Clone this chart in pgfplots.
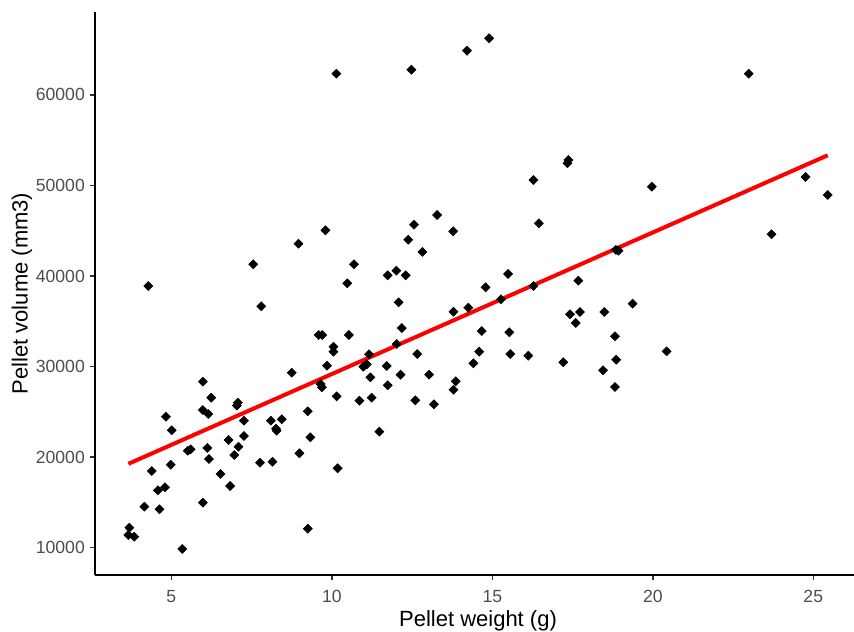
\documentclass[border=0pt]{standalone}
\usepackage{pgfplots}
\pgfplotsset{compat=1.18}
\usepackage{fontspec}
\setmainfont{Liberation Sans}
\definecolor{ticktext}{HTML}{4D4D4D}
\definecolor{tickline}{HTML}{333333}

\begin{document}
\begin{tikzpicture}
\path[use as bounding box] (-71.25pt,-42.75pt) rectangle (569.25pt,431.25pt);
\begin{axis}[
  scale only axis,
  width=570pt, height=422.25pt,
  xmin=2.62, xmax=26.3,
  ymin=6986, ymax=69140,
  axis lines*=left,
  axis line style={-, line width=1.1pt, black},
  xtick={5,10,15,20,25},
  ytick={10000,20000,30000,40000,50000,60000},
  scaled y ticks=false,
  tick align=outside,
  major tick length=4.1pt,
  tick style={line width=1.1pt, tickline},
  /pgf/number format/assume math mode=true,
  /pgf/number format/set thousands separator={},
  ticklabel style={font=\fontsize{13.2}{15}\selectfont, text=ticktext},
  xticklabel style={yshift=-4pt},
  label style={font=\fontsize{16.5}{19}\selectfont},
  xlabel={Pellet weight (g)},
  ylabel={Pellet volume (mm3)},
  xlabel style={at={(axis description cs:0.504,0)}, anchor=center, yshift=-34pt},
  ylabel style={at={(axis description cs:0,0.5)}, anchor=center, yshift=54.75pt},
  clip=false,
]
\addplot[only marks, mark=square*, mark size=2.4pt, mark options={rotate=45, fill=black, draw=black}] coordinates {
(5.98,28330) (6.24,26560) (7.07,26010) (7.04,25680) (4.83,24460) (5.98,25200)
(6.15,24760) (5.01,22960) (7.26,24020) (8.10,24020) (8.44,24180) (8.26,23140)
(8.28,22920) (8.75,29320) (6.78,21890) (7.26,22330) (7.09,21150) (6.96,20230)
(5.51,20710) (5.60,20860) (6.12,21010) (6.17,19790) (7.76,19380) (8.15,19490)
(4.39,18470) (4.98,19160) (6.53,18140) (6.83,16810) (4.80,16670) (4.58,16340)
(4.16,14530) (4.63,14240) (5.98,14970) (3.69,12210) (3.66,11400) (3.84,11210)
(5.34,9860)
(4.28,38890) (7.55,41290) (7.80,36650)
(9.65,28070) (9.69,27710) (10.15,26710) (10.86,26230) (11.24,26560) (11.20,28810)
(11.74,27930) (12.14,29100) (13.03,29100) (13.86,28370) (13.79,27440) (12.60,26270)
(13.18,25830) (9.25,25060) (11.48,22810) (9.33,22190) (8.99,20420) (10.18,18770)
(9.25,12100)
(8.96,43560) (9.80,45040) (10.69,41290) (10.48,39190) (11.74,40070) (12.01,40580)
(12.30,40070) (12.38,44000) (12.56,45660) (12.82,42650) (13.28,46730) (13.78,44930)
(12.08,37090) (12.18,34250) (12.02,32490) (12.66,31380) (11.71,30060) (10.98,29980)
(11.09,30250) (11.16,31350) (9.85,30090) (9.59,33480) (9.70,33480) (10.53,33480)
(10.05,32190) (10.05,31640) (14.79,38750) (14.25,36500) (13.79,36050) (14.67,33920)
(14.59,31640) (14.41,30360)
(10.14,62330) (12.48,62770) (14.21,64870) (14.90,66240)
(17.37,52800) (17.34,52440) (16.28,50590) (19.97,49850) (16.45,45810) (18.85,42870)
(18.93,42790) (15.49,40220) (16.28,38890) (15.27,37420) (17.68,39480) (19.37,36940)
(17.42,35770) (17.73,36020) (17.60,34810) (18.49,36020) (15.53,33780) (18.82,33340)
(15.56,31380) (16.12,31200) (17.21,30470) (18.86,30760) (18.45,29590) (18.82,27740)
(20.43,31680)
(22.99,62330) (24.76,50930) (25.45,48940) (23.70,44600)
};
% fitted line (lm)
\addplot[red, line width=3pt, no marks] coordinates {(3.66,19260) (25.45,53320)};
\end{axis}
\end{tikzpicture}
\end{document}
